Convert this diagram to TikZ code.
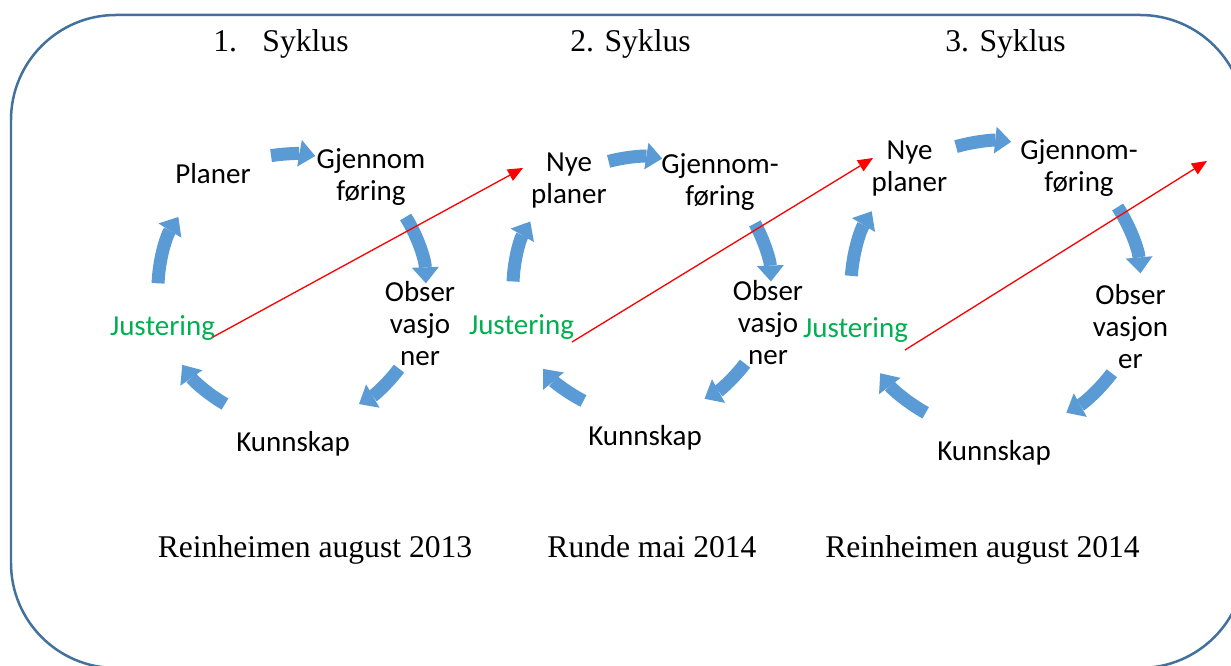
\documentclass[tikz,border=0pt]{standalone}
\usepackage{fontspec}
\setmainfont{Liberation Serif}
\newfontfamily\calibri{Carlito}
\usetikzlibrary{calc,arrows.meta}
\definecolor{frameblue}{HTML}{41719C}
\definecolor{arcblue}{HTML}{5B9BD5}
\definecolor{justgreen}{HTML}{00B050}
\def\blockarc(#1)(#2:#3:#4){\draw[blockarrow] ($(#1)+(#2:#4)$) arc (#2:#3:#4);}
\tikzset{
	blockarrow/.style={line width=0.26cm, color=arcblue, -{Triangle[length=0.32cm, width=0.54cm, line width=0pt]}},
	redarrow/.style={line width=0.75pt, color=red, -{Triangle[length=0.3cm, width=0.26cm, line width=0pt]}},
	lbl/.style={font=\calibri\fontsize{16.5}{18.2}\selectfont, align=center, inner sep=0pt},
	ttl/.style={font=\fontsize{18}{21}\selectfont, inner sep=0pt, text height=0.69em, text depth=0.22em}
}

\begin{document}
\begin{tikzpicture}[x=0.02cm, y=0.02cm]
			%%%%% START %%%%%
			
			\useasboundingbox (0, 0) rectangle (1231, 666);
			\draw[line width=0.05cm, color=frameblue, rounded corners=2.1cm] (11, -2) rectangle (1245, 651);
			
			\node[ttl] (syk1) at (281, 619) {1.\hspace{0.8em}Syklus};
			\node[ttl] (syk2) at (630.5, 619) {2. Syklus};
			\node[ttl] (syk3) at (1005.5, 619) {3. Syklus};
			
			% cycle 1
			\coordinate (c1) at (292, 378);
			\blockarc(c1)(99:80:134)
			\blockarc(c1)(32:2:134)
			\blockarc(c1)(-37:-60:134)
			\blockarc(c1)(-120:-145:134)
			\blockarc(c1)(178:148:134)
			
			\node[lbl] (plan1) at (213, 492.5) {Planer};
			\node[lbl] (gjen1) at (371, 489) {Gjennom\\føring};
			\node[lbl] (obs1) at (420, 342) {Obser\\vasjo\\ner};
			\node[lbl] (kunn1) at (293, 222.5) {Kunnskap};
			\node[lbl, color=justgreen] (just1) at (162.5, 338) {Justering};
			
			% cycle 2
			\coordinate (c2) at (642, 380);
			\blockarc(c2)(105:81:129)
			\blockarc(c2)(29:2:129)
			\blockarc(c2)(-37:-61:129)
			\blockarc(c2)(-117:-140:129)
			\blockarc(c2)(178:150:129)
			
			\node[lbl] (plan2) at (569, 485) {Nye\\planer};
			\node[lbl] (gjen2) at (720, 484) {Gjennom-\\føring};
			\node[lbl] (obs2) at (768, 343.5) {Obser\\vasjo\\ner};
			\node[lbl] (kunn2) at (645, 228.5) {Kunnskap};
			\node[lbl, color=justgreen] (just2) at (521.5, 338.5) {Justering};
			
			% cycle 3
			\coordinate (c3) at (996, 380);
			\blockarc(c3)(106:84:145)
			\blockarc(c3)(33:5:145)
			\blockarc(c3)(-37:-61:145)
			\blockarc(c3)(-119:-143:145)
			\blockarc(c3)(176:149:145)
			
			\node[lbl] (plan3) at (909.5, 497.5) {Nye\\planer};
			\node[lbl] (gjen3) at (1079, 497.5) {Gjennom-\\føring};
			\node[lbl] (obs3) at (1130.5, 339.5) {Obser\\vasjon\\er};
			\node[lbl] (kunn3) at (994, 213) {Kunnskap};
			\node[lbl, color=justgreen] (just3) at (855.5, 336) {Justering};
			
			\node[ttl] (sted1) at (315, 113) {Reinheimen august 2013};
			\node[ttl] (sted2) at (652, 113) {Runde mai 2014};
			\node[ttl] (sted3) at (982.5, 113) {Reinheimen august 2014};
			
			% red links
			\coordinate (r1a) at (213, 329);
			\coordinate (r1b) at (523, 498);
			\coordinate (r2a) at (572, 324);
			\coordinate (r2b) at (873, 508);
			\coordinate (r3a) at (905, 316);
			\coordinate (r3b) at (1207, 505);
			\draw[redarrow] (r1a) -- (r1b);
			\draw[redarrow] (r2a) -- (r2b);
			\draw[redarrow] (r3a) -- (r3b);
			
			%%%%% END %%%%%
\end{tikzpicture}
\end{document}
